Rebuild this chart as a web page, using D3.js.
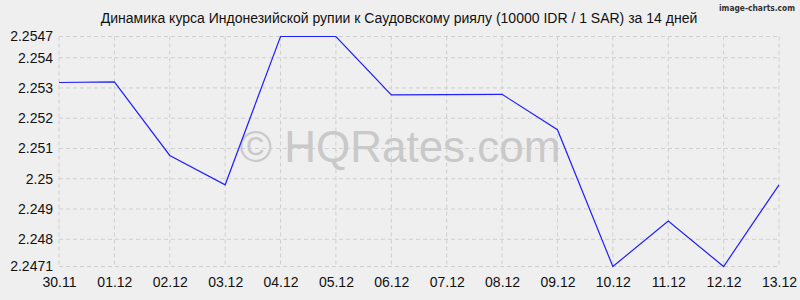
<!DOCTYPE html>
<head>
  <meta charset="utf-8">
  <title>Динамика курса IDR / SAR</title>
<style>
html, body {
  margin: 0;
  padding: 0;
  background: #efefef;
}
body {
  font-family: Arial, 'Liberation Sans', sans-serif;
}
.grid line {
  stroke: #cfcfcf;
  stroke-dasharray: 4,3;
}
.tick text {
  font-size: 14px;
  fill: #111;
}
</style>
</head>
<body>
<svg width="800" height="300"></svg>
<script src="https://d3js.org/d3.v7.min.js"></script>
<script>
var dates = ["30.11","01.12","02.12","03.12","04.12","05.12","06.12","07.12","08.12","09.12","10.12","11.12","12.12","13.12"];
var rates = [2.25318, 2.2532, 2.25077, 2.2498, 2.2547, 2.2547, 2.25277, 2.25278, 2.25279, 2.25162, 2.2471, 2.2486, 2.2471, 2.2498];
var yTicks = [2.2471, 2.248, 2.249, 2.25, 2.251, 2.252, 2.253, 2.254, 2.2547];

var svg = d3.select("svg");

svg.append("rect")
    .attr("width", 800).attr("height", 300)
    .attr("fill", "#efefef");

var x = d3.scalePoint()
    .domain(dates)
    .range([59, 779]);

var y = d3.scaleLinear()
    .domain([2.2471, 2.2547])
    .range([266.5, 36.5]);

// grid
var grid = svg.append("g").attr("class", "grid");
grid.selectAll(".h").data(yTicks)
  .enter().append("line")
    .attr("x1", 59).attr("x2", 779)
    .attr("y1", function(d) { return y(d); })
    .attr("y2", function(d) { return y(d); });
grid.selectAll(".v").data(dates)
  .enter().append("line")
    .attr("x1", function(d) { return x(d); })
    .attr("x2", function(d) { return x(d); })
    .attr("y1", 36.5).attr("y2", 266.5);

// watermark
svg.append("text")
    .attr("x", 400).attr("y", 162)
    .attr("text-anchor", "middle")
    .style("font-size", "44px")
    .style("fill", "#c9c9c9")
    .text("© HQRates.com");

// axes
var yAxis = svg.append("g")
    .attr("transform", "translate(59,0)")
    .call(d3.axisLeft(y).tickValues(yTicks).tickSize(0).tickPadding(6).tickFormat(function(d) { return String(d); }));
yAxis.select(".domain").remove();

var xAxis = svg.append("g")
    .attr("transform", "translate(0,266.5)")
    .call(d3.axisBottom(x).tickSize(0).tickPadding(11));
xAxis.select(".domain").remove();

svg.selectAll(".tick text").style("font-family", "Arial, 'Liberation Sans', sans-serif").style("font-size", "14px");

// line
var line = d3.line()
    .x(function(d, i) { return x(dates[i]); })
    .y(function(d) { return y(d); });

svg.append("path")
    .datum(rates)
    .attr("fill", "none")
    .attr("stroke", "#1f1fff")
    .attr("stroke-width", 1.2)
    .attr("d", line);

// title
svg.append("text")
    .attr("x", 399).attr("y", 23)
    .attr("text-anchor", "middle")
    .style("font-size", "14px")
    .style("fill", "#111")
    .text("Динамика курса Индонезийской рупии к Саудовскому риялу (10000 IDR / 1 SAR) за 14 дней");

svg.append("text")
    .attr("x", 719).attr("y", 11)
    .attr("textLength", 76)
    .attr("lengthAdjust", "spacingAndGlyphs")
    .style("font-family", "'DejaVu Sans Condensed', 'DejaVu Sans', sans-serif")
    .style("font-weight", "bold")
    .style("font-size", "9px")
    .style("fill", "#333")
    .text("image-charts.com");
</script>
</body>
